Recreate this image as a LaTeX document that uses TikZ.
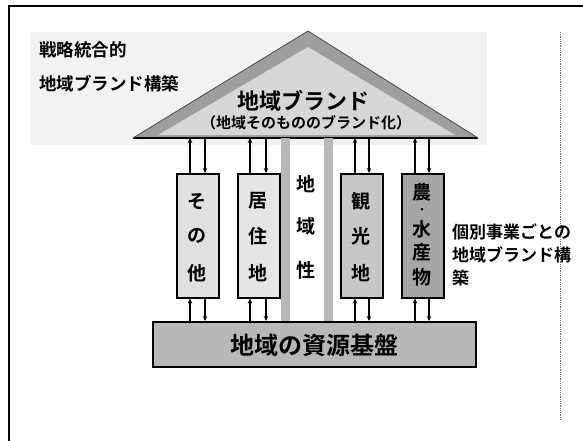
\documentclass[tikz,border=0pt]{standalone}
\usepackage{fontspec}
\setmainfont{Noto Sans CJK JP}[BoldFont={* Bold}]
\usetikzlibrary{arrows.meta}
\begin{document}
\begin{tikzpicture}[x=1pt,y=-1pt,
  every node/.style={inner sep=0pt,font=\bfseries},
  colbox/.style={draw=black,line width=1.6pt,minimum width=42pt,minimum height=124pt,anchor=north west},
  ch/.style={font=\bfseries\fontsize{19}{19}\selectfont},
  conn/.style={line width=1.4pt,-{Stealth[length=5pt,width=4.5pt]}},
  band/.style={fill=black!28,draw=none}]
\useasboundingbox (0,0) rectangle (583,441);
% frame
\draw[line width=1.6pt] (9,441) -- (9,6) -- (583,6);
\draw[black!55,densely dotted,line width=0.8pt] (560,32) -- (560,420);
% light speckle background behind roof
\fill[black!5] (30,32) rectangle (487,145);
% left title
\node[anchor=west,font=\bfseries\fontsize{17.5}{17.5}\selectfont] (t1) at (39,50) {戦略統合的};
\node[anchor=west,font=\bfseries\fontsize{17.5}{17.5}\selectfont] (t2) at (39,84) {地域ブランド構築};
% roof
\coordinate (apex) at (308,31);
\coordinate (bl) at (133,138);
\coordinate (br) at (478,138);
\fill[black!38] (apex) -- (br) -- (bl) -- cycle;
\fill[black!16] (308,47) -- (455,135) -- (158,135) -- cycle;
\draw[line width=1.4pt] (bl) -- (br);
\draw[black!70,line width=0.8pt] (apex) -- (br) (apex) -- (bl);
\node[font=\bfseries\fontsize{22}{22}\selectfont] (roof) at (303,101) {地域ブランド};
\node[font=\bfseries\fontsize{15}{15}\selectfont] (roofsub) at (306,123) {（地域そのもののブランド化）};
% central pillar
\fill[band] (281,138) rectangle (290,321);
\fill[band] (324,138) rectangle (333,321);
\node[ch] (c1) at (306,184) {地};
\node[ch] (c2) at (306,226) {域};
\node[ch] (c3) at (306,270) {性};
% boxes
\node[colbox,fill=black!12] (b1) at (176,173) {};
\node[colbox,fill=black!10] (b2) at (237,173) {};
\node[colbox,fill=black!22] (b3) at (340,173) {};
\node[colbox,fill=black!35] (b4) at (401,173) {};
\node[ch] at (197,202) {そ};
\node[ch] at (197,236) {の};
\node[ch] at (197,273) {他};
\node[ch] at (258,201) {居};
\node[ch] at (258,236) {住};
\node[ch] at (258,273) {地};
\node[ch] at (361,201) {観};
\node[ch] at (361,236) {光};
\node[ch] at (361,273) {地};
\node[ch] at (422,192) {農};
\node[font=\bfseries\fontsize{10}{10}\selectfont] at (422,211) {・};
\node[ch] at (422,229) {水};
\node[ch] at (422,252) {産};
\node[ch] at (422,277) {物};
% base
\node[draw=black,line width=1.8pt,fill=black!28,minimum width=323pt,minimum height=45pt,anchor=north west] (base) at (152,321) {};
\node[font=\bfseries\fontsize{24}{24}\selectfont] (basetxt) at (314,345) {地域の資源基盤};
% right text
\node[anchor=north west,align=left,font=\bfseries\fontsize{17}{23}\selectfont] (rt) at (452,224) {個別事業ごとの\\地域ブランド構\\築};
% connectors
\foreach \b/\l/\r in {b1/190/205, b2/250/266, b3/355/369, b4/415/429}{
  \draw[conn] (\b.north -| \l,0) -- (bl -| \l,0);
  \draw[conn] (bl -| \r,0) -- (\b.north -| \r,0);
  \draw[conn] (base.north -| \l,0) -- (\b.south -| \l,0);
  \draw[conn] (\b.south -| \r,0) -- (base.north -| \r,0);
}
\end{tikzpicture}
\end{document}
